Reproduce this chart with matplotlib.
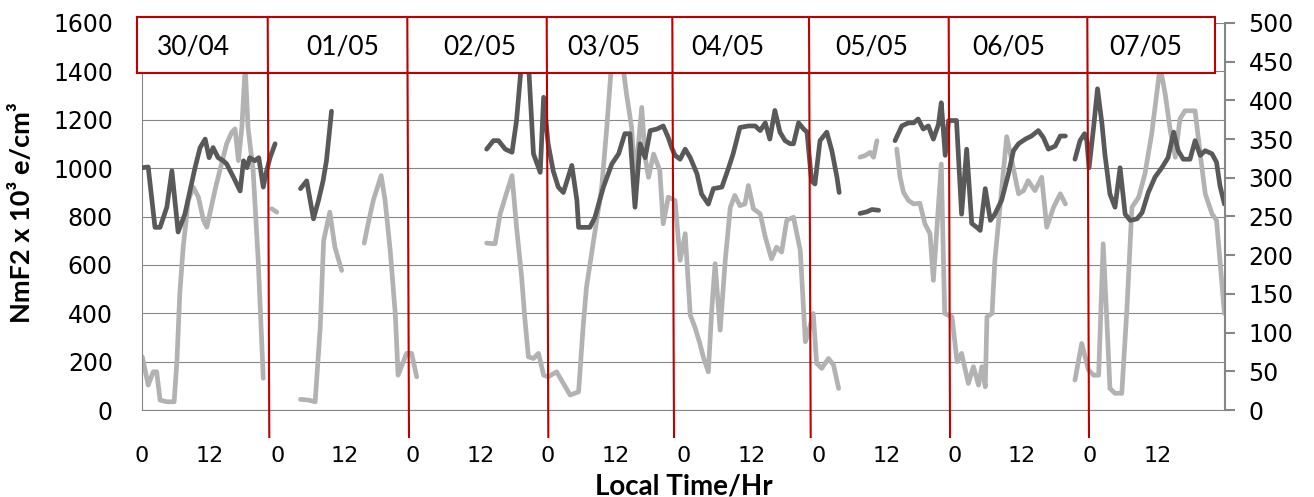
import numpy as np
import matplotlib.pyplot as plt
from matplotlib.lines import Line2D
from matplotlib.patches import Rectangle

# local hour counted from 30/04 00h, value
# NmF2 x 10^5 e/cm3 (left axis, light grey)
nmf2_0 = [(0.05, 220), (1.1, 103), (2.0, 158), (2.6, 158), (3.2, 41), (4.4, 34), (5.7, 34),
          (6.2, 206), (6.7, 482), (7.3, 673), (8.2, 866), (9.1, 921), (10.0, 880), (10.9, 784),
          (11.5, 756), (12.4, 852), (13.2, 935), (14.1, 1017), (15.0, 1100), (15.9, 1148),
          (16.5, 1162), (17.1, 1031), (17.7, 1168), (18.3, 1420), (18.8, 1168), (19.7, 990),
          (20.6, 619), (21.5, 131)]
nmf2_1 = [(23.0, 832), (23.9, 818)]
nmf2_2 = [(28.1, 44), (29.5, 41), (30.7, 34), (31.6, 343), (32.2, 701), (33.3, 818),
          (34.2, 673), (35.4, 577)]
nmf2_3 = [(39.4, 690), (40.1, 772), (41.0, 866), (42.4, 969), (43.1, 866), (44.0, 660),
          (44.9, 399), (45.4, 144), (46.9, 234), (47.8, 234), (48.7, 137)]
nmf2_4 = [(61.1, 690), (62.6, 687), (63.5, 811), (64.4, 880), (65.6, 969), (66.4, 756),
          (67.3, 550), (67.9, 371), (68.5, 220), (69.4, 213), (70.3, 234), (71.2, 144),
          (72.0, 137), (73.5, 158), (74.7, 110), (75.9, 62), (77.4, 75), (78.2, 343),
          (78.8, 508), (79.7, 646), (80.6, 784), (81.5, 921), (82.4, 1168), (83.3, 1450),
          (85.1, 1450), (85.9, 1306), (86.8, 1168), (87.4, 948), (88.6, 1251), (89.2, 1045),
          (89.8, 962), (90.7, 1058), (91.8, 990), (92.4, 770), (93.3, 880), (94.5, 866),
          (95.4, 619), (96.3, 729), (97.2, 392), (98.0, 344), (98.9, 275), (99.5, 220),
          (100.4, 158), (101.0, 412), (101.6, 605), (102.5, 330), (103.4, 619), (104.3, 838),
          (105.1, 887), (106.0, 845), (106.9, 852), (107.5, 928), (108.4, 832), (109.6, 811),
          (110.5, 715), (111.6, 625), (112.5, 673), (113.4, 653), (114.3, 784), (115.5, 797),
          (116.7, 660), (117.6, 282), (118.1, 316), (119.0, 399), (119.6, 193), (120.5, 172),
          (121.7, 213), (122.6, 186), (123.5, 89)]
nmf2_5 = [(127.3, 1045), (128.2, 1052), (129.1, 1065), (129.7, 1045), (130.3, 1113)]
nmf2_6 = [(133.8, 1079), (134.4, 962), (135.0, 900), (135.9, 866), (136.8, 852), (137.9, 855),
          (138.8, 770), (139.7, 729), (140.3, 536), (141.7, 1017), (142.3, 399), (143.6, 385),
          (144.5, 199), (145.3, 234), (146.5, 110), (147.4, 179), (148.3, 103), (148.9, 179),
          (149.5, 96), (149.8, 385), (150.7, 399), (151.2, 619), (152.1, 838), (153.3, 1130),
          (154.2, 1031), (155.4, 894), (156.3, 907), (157.1, 948), (158.3, 907), (159.5, 962),
          (160.4, 756), (161.6, 838), (162.8, 894), (163.7, 852)]
nmf2_7 = [(165.4, 124), (166.6, 275), (167.8, 165), (168.7, 144), (169.6, 144), (170.4, 687),
          (171.0, 399), (171.6, 89), (172.5, 69), (173.7, 69), (174.6, 412), (175.5, 838),
          (176.7, 880), (177.8, 976), (179.0, 1141), (180.5, 1420), (181.4, 1306), (182.3, 1155),
          (183.2, 1045), (184.0, 1203), (184.9, 1237), (186.7, 1237), (187.6, 1059), (188.5, 894),
          (189.7, 811), (190.5, 784), (191.4, 536), (191.9, 399)]

# hmF2 km (right axis, dark grey)
hmf2_0 = [(0.05, 313), (1.1, 314), (2.3, 236), (3.2, 236), (4.4, 262), (5.3, 309), (6.4, 230),
          (7.6, 253), (8.5, 283), (9.4, 313), (10.3, 339), (11.2, 350), (11.9, 326), (12.6, 339),
          (13.5, 326), (14.4, 322), (15.0, 318), (16.2, 301), (17.4, 283), (18.0, 322),
          (18.6, 313), (19.1, 326), (20.0, 322), (20.7, 326), (21.5, 288), (22.1, 309),
          (22.7, 326), (23.6, 344)]
hmf2_1 = [(28.1, 286), (29.2, 296), (30.4, 247), (31.3, 271), (32.1, 296), (32.7, 322),
          (33.6, 386)]
hmf2_2 = [(61.1, 337), (62.3, 348), (63.2, 348), (64.4, 337), (65.6, 333), (66.4, 374),
          (67.3, 450), (68.5, 450), (69.4, 331), (70.6, 307), (71.2, 404), (72.0, 344),
          (72.9, 309), (73.8, 288), (74.7, 281), (76.2, 316), (77.1, 271), (77.4, 236),
          (79.4, 236), (80.3, 249), (81.8, 288), (83.3, 318), (84.5, 331), (85.6, 357),
          (86.5, 357), (87.4, 262), (88.3, 344), (89.2, 326), (90.1, 361), (91.3, 363),
          (92.4, 367), (93.3, 352), (93.9, 339), (94.5, 329), (95.4, 324), (96.3, 337),
          (97.2, 326), (98.4, 305), (99.2, 279), (100.4, 266), (101.3, 286), (102.8, 288),
          (104.0, 313), (104.8, 331), (106.0, 365), (107.5, 367), (108.7, 367), (109.6, 361),
          (110.5, 371), (111.3, 350), (112.2, 387), (113.1, 359), (114.0, 348), (114.9, 344),
          (115.5, 344), (116.4, 371), (117.3, 363), (117.9, 359), (118.7, 296), (119.3, 292),
          (120.2, 348), (121.4, 359), (122.3, 335), (123.2, 301), (123.6, 281)]
hmf2_3 = [(127.3, 254), (128.5, 256), (129.4, 259), (130.6, 258)]
hmf2_4 = [(133.5, 348), (134.7, 367), (135.9, 371), (136.8, 371), (137.6, 376), (138.5, 363),
          (139.4, 367), (140.3, 350), (141.2, 369), (141.7, 397), (142.4, 329), (143.0, 374),
          (144.4, 374), (145.3, 253), (146.2, 337), (147.1, 241), (148.0, 236), (148.6, 232),
          (149.5, 286), (150.4, 245), (151.2, 253), (152.4, 271), (153.6, 305), (154.5, 335),
          (155.4, 344), (156.6, 350), (157.7, 354), (158.9, 361), (159.8, 352), (160.7, 337),
          (161.9, 341), (162.8, 354), (163.7, 354)]
hmf2_5 = [(165.4, 324), (166.3, 348), (167.1, 357), (167.5, 348), (167.9, 313), (168.7, 365),
          (169.4, 415), (170.2, 369), (170.7, 331), (171.6, 279), (172.5, 262), (173.4, 313),
          (174.3, 253), (175.2, 245), (176.4, 247), (177.3, 255), (178.4, 281), (179.6, 301),
          (180.8, 313), (181.9, 326), (182.9, 359), (183.7, 335), (184.6, 324), (185.8, 324),
          (186.7, 348), (187.6, 329), (188.5, 335), (189.7, 331), (190.5, 320), (191.1, 290),
          (191.9, 266)]

days = ['30/04', '01/05', '02/05', '03/05', '04/05', '05/05', '06/05', '07/05']


def join(segs):
    h, v = [], []
    for s in segs:
        h += [p[0] for p in s] + [np.nan]
        v += [p[1] for p in s] + [np.nan]
    return np.array(h), np.array(v)


nm_h, nm_v = join([nmf2_0, nmf2_1, nmf2_2, nmf2_3, nmf2_4, nmf2_5, nmf2_6, nmf2_7])
hm_h, hm_v = join([hmf2_0, hmf2_1, hmf2_2, hmf2_3, hmf2_4, hmf2_5])

W, H = 1314, 497
fig = plt.figure(figsize=(W / 100, H / 100), dpi=100)


def fx(px):
    return px / W


def fy(py):
    return 1 - py / H


ax = fig.add_axes([fx(142), fy(410), fx(1225) - fx(142), fy(23) - fy(410)])
ax2 = ax.twinx()

grey = '#868686'
ax.plot(nm_h, nm_v, color='#b2b2b2', lw=3.4, solid_joinstyle='round', solid_capstyle='round')
ax2.plot(hm_h, hm_v, color='#595959', lw=3.4, solid_joinstyle='round', solid_capstyle='round')

ax.set_xlim(0, 192)
ax.set_ylim(0, 1600)
ax2.set_ylim(0, 500)

ax.set_xticks(np.arange(0, 192, 12))
ax.set_xticklabels(['0', '12'] * 8)
ax.set_yticks(np.arange(0, 1601, 200))
ax2.set_yticks(np.arange(0, 501, 50))

ax.yaxis.grid(True, color=grey, lw=0.8)
ax.set_axisbelow(True)
ax.tick_params(axis='x', length=0, pad=26, labelsize=16)
ax.tick_params(axis='y', length=0, pad=21, labelsize=17)
ax2.tick_params(axis='y', length=7, width=1.5, color=grey, pad=10, labelsize=17)

for a in (ax, ax2):
    a.spines['top'].set_visible(False)
ax.spines['right'].set_visible(False)
ax2.spines['left'].set_visible(False)
ax2.spines['bottom'].set_visible(False)
ax.spines['left'].set_color(grey)
ax.spines['bottom'].set_color(grey)
ax2.spines['right'].set_color(grey)
ax2.spines['right'].set_linewidth(1.5)

fig.text(fx(22), fy(213), 'NmF2 x 10³ e/cm³', rotation=90, ha='center', va='center',
         fontsize=19.5, fontweight='bold', family=['Lato', 'DejaVu Sans'])
fig.text(fx(684), fy(486), 'Local Time/Hr', ha='center', va='center',
         fontsize=20, fontweight='bold', family=['Lato', 'DejaVu Sans'])

# date boxes and red day separators
red = '#C00000'
fig.add_artist(Rectangle((fx(137), fy(73)), fx(1215) - fx(137), fy(17) - fy(73),
                         transform=fig.transFigure, facecolor='white', edgecolor=red,
                         lw=1.5, zorder=5))
sep_top = [267.7, 407.3, 546.7, 672.3, 809, 948.7, 1087.3]
sep_bot = [269.3, 409, 548.3, 674, 810.7, 950, 1089]
for t, b in zip(sep_top, sep_bot):
    fig.add_artist(Line2D([fx(t), fx(b)], [fy(17), fy(437)], transform=fig.transFigure,
                          color=red, lw=1.5, zorder=6))
label_x = [193, 343, 480, 604, 728, 872, 1009, 1146]
for x, d in zip(label_x, days):
    fig.text(fx(x), fy(46.5), d, ha='center', va='center', fontsize=19,
             family=['Lato', 'DejaVu Sans'], zorder=7)

fig.savefig('out.png', dpi=100)
